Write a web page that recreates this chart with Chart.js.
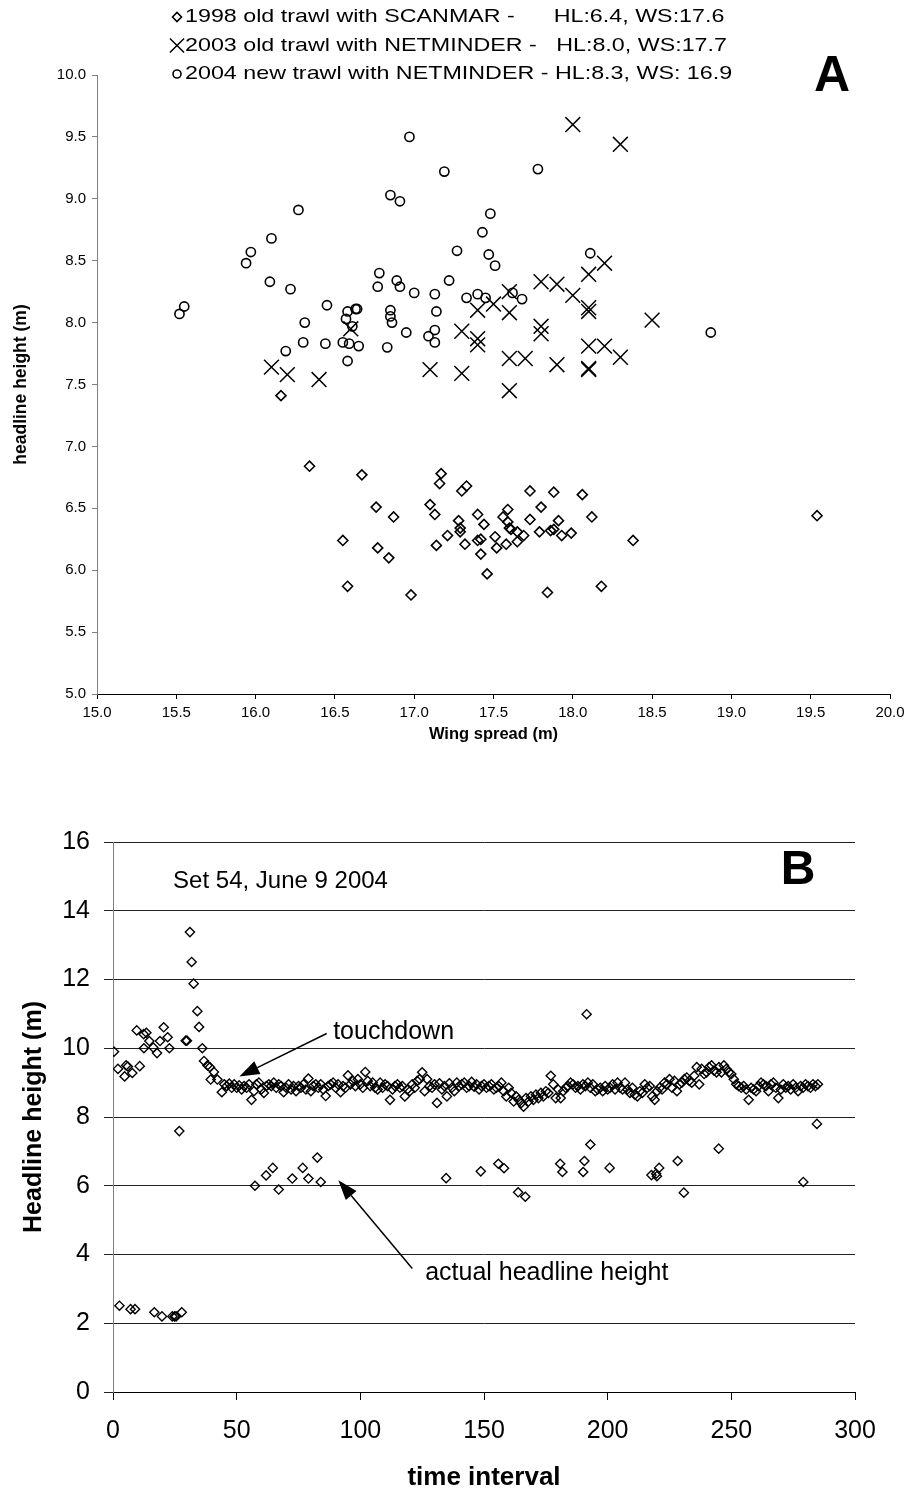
<!DOCTYPE html>
<html lang="en">
<head>
    <meta charset="UTF-8">
    <meta name="viewport" content="width=device-width, initial-scale=1.0">
    <title>Headline height and wing spread</title>
    <style>
        body {
            margin: 0;
            background: #fff;
            font-family: "Liberation Sans", Arial, sans-serif;
        }
        canvas { display: block; }
    </style>
</head>
<body>
    <canvas id="panelA" width="911" height="765"></canvas>
    <canvas id="panelB" width="911" height="728"></canvas>

    <script src="https://cdn.jsdelivr.net/npm/chart.js@4.4.1/dist/chart.umd.min.js"></script>
    <script>
        // ---------- panel A: headline height vs wing spread ----------
        const spread1998 = [16.34, 16.67, 16.76, 16.87, 16.55, 16.77, 16.84, 16.58, 16.98, 17.17,
                            17.16, 17.33, 17.30, 17.10, 17.13, 17.28, 17.29, 17.29, 17.21, 17.14,
                            17.32, 17.40, 17.44, 17.40, 17.42, 17.42, 17.46, 17.51, 17.52, 17.58,
                            17.59, 17.56, 17.59, 17.60, 17.61, 17.65, 17.69, 17.65, 17.73, 17.73,
                            17.80, 17.79, 17.88, 17.86, 17.88, 17.91, 17.93, 17.99, 18.06, 18.12,
                            17.84, 18.18, 18.38, 19.54, 16.16];
        const height1998 = [6.84, 6.77, 6.51, 6.43, 6.24, 6.18, 6.10, 5.87, 5.80, 6.78,
                            6.70, 6.68, 6.64, 6.53, 6.45, 6.40, 6.34, 6.31, 6.28, 6.20,
                            6.21, 6.45, 6.37, 6.24, 6.25, 6.13, 5.97, 6.27, 6.18, 6.21,
                            6.49, 6.43, 6.39, 6.34, 6.33, 6.31, 6.28, 6.23, 6.64, 6.41,
                            6.51, 6.31, 6.63, 6.32, 6.33, 6.40, 6.28, 6.30, 6.61, 6.43,
                            5.82, 5.87, 6.24, 6.44, 7.41];

        const spread2003 = [16.1, 16.2, 16.4, 16.6, 17.1, 17.3, 17.3, 17.4, 17.4, 17.4,
                            17.5, 18.0, 18.3, 18.2, 18.1, 17.8, 17.9, 18.0, 17.6, 17.6,
                            18.1, 18.1, 17.8, 17.8, 18.5, 18.1, 18.2, 18.3, 17.6, 17.7,
                            17.9, 18.1, 18.1, 17.6];
        const height2003 = [7.64, 7.58, 7.54, 7.95, 7.62, 7.59, 7.93, 7.87, 7.82, 8.10,
                            8.15, 9.60, 9.44, 8.48, 8.39, 8.33, 8.31, 8.22, 8.25, 8.08,
                            8.12, 8.09, 7.97, 7.91, 8.02, 7.81, 7.81, 7.72, 7.71, 7.71,
                            7.66, 7.63, 7.62, 7.45];

        const spread2004 = [16.97, 17.19, 17.78, 16.85, 16.91, 16.27, 17.48, 17.43, 16.10, 15.97,
                            15.94, 17.27, 17.47, 17.51, 18.11, 16.78, 16.09, 16.22, 16.89, 16.91,
                            16.77, 17.22, 17.00, 17.13, 17.33, 17.40, 17.45, 17.62, 17.68, 16.45,
                            16.63, 16.64, 16.58, 16.85, 16.85, 17.14, 16.57, 16.86, 16.31, 15.55,
                            15.52, 16.61, 17.13, 16.95, 17.09, 17.13, 16.30, 16.44, 16.55, 16.59,
                            16.65, 16.83, 16.19, 16.58, 18.87];
        const height2004 = [9.50, 9.22, 9.24, 9.03, 8.98, 8.91, 8.88, 8.73, 8.68, 8.57,
                            8.48, 8.58, 8.55, 8.46, 8.56, 8.40, 8.33, 8.27, 8.34, 8.29,
                            8.29, 8.34, 8.24, 8.23, 8.20, 8.23, 8.20, 8.24, 8.19, 8.14,
                            8.11, 8.11, 8.09, 8.10, 8.05, 8.09, 8.03, 8.00, 8.00, 8.13,
                            8.07, 7.97, 7.94, 7.92, 7.89, 7.84, 7.84, 7.83, 7.84, 7.83,
                            7.81, 7.80, 7.77, 7.69, 7.92];

        const seriesLabels = [
            '1998 old trawl with SCANMAR -      HL:6.4, WS:17.6',
            '2003 old trawl with NETMINDER -   HL:8.0, WS:17.7',
            '2004 new trawl with NETMINDER - HL:8.3, WS: 16.9'
        ];
        const spreadTicks = [15.0, 15.5, 16.0, 16.5, 17.0, 17.5, 18.0, 18.5, 19.0, 19.5, 20.0];
        const heightTicksA = [5.0, 5.5, 6.0, 6.5, 7.0, 7.5, 8.0, 8.5, 9.0, 9.5, 10.0];

        // ---------- panel B: headline height through set 54 ----------
        // before touchdown
        const setupTime   = [0.4, 2.0, 4.7, 5.3, 6.0, 7.8, 9.6, 10.8, 12.4, 12.5,
                             13.5, 14.7, 16.3, 17.8, 19.0, 20.5, 22.1, 22.8, 26.8, 29.4,
                             29.9, 31.1, 31.8, 32.6, 34.1, 34.8, 36.1, 36.8, 38.2, 39.2,
                             39.5, 40.8, 42.2];
        const setupHeight = [9.90, 9.40, 9.18, 9.50, 9.47, 9.28, 10.52, 9.48, 10.41, 10.00,
                             10.45, 10.21, 10.02, 9.86, 10.21, 10.61, 10.32, 10.00, 7.59, 10.22,
                             10.22, 13.38, 12.51, 11.88, 11.08, 10.62, 10.00, 9.63, 9.50, 9.45,
                             9.09, 9.31, 9.09];
        // low readings (actual headline height)
        const lowTime   = [2.6, 7.1, 8.9, 16.7, 19.8, 24.0, 24.9, 25.5, 27.8, 57.4,
                           61.9, 64.6, 67.0, 72.5, 76.7, 79.0, 82.6, 84.0, 134.7, 148.7,
                           155.8, 158.1, 163.8, 166.7, 180.8, 181.7, 190.1, 190.6, 191.5, 193.0,
                           200.8, 217.7, 219.6, 219.9, 220.8, 228.3, 230.8, 244.9, 279.1, 284.6];
        const lowHeight = [2.51, 2.41, 2.41, 2.32, 2.20, 2.20, 2.20, 2.20, 2.32, 6.00,
                           6.30, 6.52, 5.89, 6.21, 6.52, 6.21, 6.82, 6.11, 6.22, 6.42,
                           6.64, 6.51, 5.81, 5.68, 6.64, 6.40, 6.40, 6.72, 10.99, 7.20,
                           6.52, 6.31, 6.35, 6.28, 6.52, 6.72, 5.80, 7.08, 6.11, 7.80];
        // on bottom (touchdown band)
        const bandTime = [
             44,  45,  46,  47,  48,  49,  50,  51,  52,  53,
             54,  55,  56,  57,  58,  59,  60,  61,  62,  63,
             64,  65,  66,  67,  68,  69,  70,  71,  72,  73,
             74,  75,  76,  77,  78,  79,  80,  81,  82,  83,
             84,  85,  86,  87,  88,  89,  90,  91,  92,  93,
             94,  95,  96,  97,  98,  99, 100, 101, 102, 103,
            104, 105, 106, 107, 108, 109, 110, 111, 112, 113,
            114, 115, 116, 117, 118, 119, 120, 121, 122, 123,
            124, 125, 126, 127, 128, 129, 130, 131, 132, 133,
            134, 135, 136, 137, 138, 139, 140, 141, 142, 143,
            144, 145, 146, 147, 148, 149, 150, 151, 152, 153,
            154, 155, 156, 157, 158, 159, 160, 161, 162, 163,
            164, 165, 166, 167, 168, 169, 170, 171, 172, 173,
            174, 175, 176, 177, 178, 179, 180, 181, 182, 183,
            184, 185, 186, 187, 188, 189, 190, 191, 192, 193,
            194, 195, 196, 197, 198, 199, 200, 201, 202, 203,
            204, 205, 206, 207, 208, 209, 210, 211, 212, 213,
            214, 215, 216, 217, 218, 219, 220, 221, 222, 223,
            224, 225, 226, 227, 228, 229, 230, 231, 232, 233,
            234, 235, 236, 237, 238, 239, 240, 241, 242, 243,
            244, 245, 246, 247, 248, 249, 250, 251, 252, 253,
            254, 255, 256, 257, 258, 259, 260, 261, 262, 263,
            264, 265, 266, 267, 268, 269, 270, 271, 272, 273,
            274, 275, 276, 277, 278, 279, 280, 281, 282, 283,
            284, 285];
        const bandHeight = [
            8.72, 8.95, 8.90, 8.97, 8.85, 8.95, 8.85, 8.92, 8.80, 8.90,
            8.85, 8.95, 8.50, 8.75, 8.95, 9.00, 8.80, 8.70, 8.90, 8.95,
            8.90, 9.00, 8.85, 8.95, 8.90, 8.72, 8.85, 8.95, 8.80, 8.90,
            8.75, 8.90, 8.85, 8.95, 8.80, 9.12, 8.75, 8.90, 8.95, 8.85,
            8.95, 8.80, 8.61, 8.90, 8.95, 9.00, 8.85, 8.95, 8.72, 8.90,
            8.85, 9.21, 8.95, 9.05, 8.90, 9.10, 8.95, 8.85, 9.31, 9.05,
            8.90, 9.00, 8.85, 8.80, 9.00, 8.85, 8.95, 8.90, 8.50, 8.80,
            8.90, 8.95, 8.85, 8.90, 8.60, 8.80, 8.75, 8.95, 8.85, 9.05,
            9.10, 9.30, 8.75, 9.10, 8.90, 8.85, 8.95, 8.41, 8.98, 8.80,
            8.90, 8.60, 8.98, 8.85, 8.75, 9.00, 8.90, 8.95, 9.00, 8.85,
            8.90, 9.02, 8.88, 8.95, 8.80, 8.90, 8.95, 8.85, 8.90, 8.95,
            8.80, 8.85, 8.90, 9.00, 8.75, 8.60, 8.85, 8.70, 8.45, 8.60,
            8.50, 8.40, 8.30, 8.55, 8.45, 8.60, 8.50, 8.65, 8.55, 8.70,
            8.60, 8.75, 8.70, 9.20, 8.95, 8.55, 8.80, 8.55, 8.75, 8.85,
            8.90, 9.00, 8.95, 8.85, 8.90, 8.80, 8.95, 8.90, 9.00, 8.85,
            8.95, 8.75, 8.80, 8.85, 8.75, 8.90, 8.80, 8.85, 8.95, 8.80,
            9.00, 8.85, 8.80, 9.00, 8.80, 8.70, 8.85, 8.65, 8.60, 8.75,
            8.70, 8.95, 8.85, 8.90, 8.60, 8.50, 8.75, 8.85, 8.80, 9.00,
            8.95, 9.10, 8.85, 9.05, 8.75, 8.95, 9.00, 9.10, 9.15, 9.05,
            9.00, 9.20, 9.45, 8.95, 9.40, 9.25, 9.30, 9.45, 9.50, 9.35,
            9.30, 9.45, 9.30, 9.50, 9.40, 9.30, 9.25, 9.10, 8.95, 8.90,
            8.85, 8.90, 8.80, 8.50, 8.85, 8.80, 8.75, 8.90, 9.00, 8.95,
            8.90, 8.75, 8.95, 9.00, 8.85, 8.55, 8.80, 8.95, 8.85, 8.90,
            8.80, 8.95, 8.85, 8.75, 8.90, 8.85, 8.95, 8.90, 8.85, 8.95,
            8.90, 8.95];
        const timeTicks = [0, 50, 100, 150, 200, 250, 300];
        const heightTicksB = [0, 2, 4, 6, 8, 10, 12, 14, 16];

        const FONT = '"Liberation Sans", Arial, sans-serif';
        Chart.defaults.font.family = FONT;
        Chart.defaults.color = '#000';

        function toPoints(xs, ys) {
            return xs.map((x, i) => ({ x: x, y: ys[i] }));
        }

        // legend lines and the panel letter, drawn above the plot like the original figure
        const panelALegend = {
            id: 'panelALegend',
            afterDraw(chart) {
                const ctx = chart.ctx;
                ctx.save();
                chart.data.datasets.forEach((ds, i) => {
                    const y = 17 + i * 28.5;
                    ctx.strokeStyle = '#000';
                    ctx.fillStyle = 'rgba(0,0,0,0)';
                    ctx.lineWidth = ds.pointBorderWidth;
                    Chart.helpers.drawPoint(ctx, {
                        pointStyle: ds.pointStyle,
                        radius: ds.legendRadius,
                        borderWidth: ds.pointBorderWidth,
                        rotation: 0
                    }, 177, y);
                    ctx.fillStyle = '#000';
                    ctx.font = '19px ' + FONT;
                    ctx.textBaseline = 'middle';
                    ctx.textAlign = 'left';
                    ctx.save();
                    ctx.translate(185, y);
                    ctx.scale(1.225, 1);
                    ctx.fillText(ds.label, 0, 0);
                    ctx.restore();
                });
                ctx.font = 'bold 50px ' + FONT;
                ctx.textAlign = 'center';
                ctx.textBaseline = 'middle';
                ctx.fillStyle = '#000';
                ctx.fillText('A', 832, 77);
                ctx.restore();
            }
        };

        new Chart(document.getElementById('panelA'), {
            type: 'scatter',
            data: {
                datasets: [
                    { label: seriesLabels[0], data: toPoints(spread1998, height1998),
                      pointStyle: 'rectRot', pointRadius: 5, legendRadius: 4.5, pointBorderWidth: 1.6,
                      borderColor: '#000', backgroundColor: 'rgba(0,0,0,0)' },
                    { label: seriesLabels[1], data: toPoints(spread2003, height2003),
                      pointStyle: 'crossRot', pointRadius: 10.5, legendRadius: 10, pointBorderWidth: 1.5,
                      borderColor: '#000', backgroundColor: 'rgba(0,0,0,0)' },
                    { label: seriesLabels[2], data: toPoints(spread2004, height2004),
                      pointStyle: 'circle', pointRadius: 4.6, legendRadius: 4, pointBorderWidth: 1.6,
                      borderColor: '#000', backgroundColor: 'rgba(0,0,0,0)' }
                ]
            },
            options: {
                responsive: false,
                animation: false,
                layout: { padding: { top: 75, right: 21, left: 0, bottom: 0 } },
                plugins: { legend: { display: false }, tooltip: { enabled: false } },
                scales: {
                    x: {
                        type: 'linear', min: 15, max: 20,
                        afterFit: s => { s.height = 71; },
                        afterBuildTicks: s => { s.ticks = spreadTicks.map(v => ({ value: v })); },
                        ticks: { callback: v => v.toFixed(1), font: { size: 15 }, color: '#000', padding: 5, maxRotation: 0 },
                        grid: { drawOnChartArea: false, tickLength: 5, color: '#000' },
                        border: { color: '#000', width: 1 },
                        title: { display: true, text: 'Wing spread (m)', color: '#000',
                                 font: { size: 16.5, weight: 'bold' }, padding: { top: 0, bottom: 21 } }
                    },
                    y: {
                        type: 'linear', min: 5, max: 10,
                        afterFit: s => { s.width = 97; },
                        afterBuildTicks: s => { s.ticks = heightTicksA.map(v => ({ value: v })); },
                        ticks: { callback: v => v.toFixed(1), font: { size: 15 }, color: '#000', padding: 6 },
                        grid: { drawOnChartArea: false, tickLength: 5, color: '#808080' },
                        border: { color: '#808080', width: 1 },
                        title: { display: true, text: 'headline height (m)', color: '#000',
                                 font: { size: 17.5, weight: 'bold' }, padding: { top: 11, bottom: 0 } }
                    }
                }
            },
            plugins: [panelALegend]
        });

        // notes for panel B, placed in data units (time interval, height)
        const panelBNotes = {
            texts: [
                { text: 'Set 54, June 9 2004', at: [24.3, 14.86], font: '24px ' + FONT, align: 'left' },
                { text: 'touchdown', at: [89, 10.46], font: '25px ' + FONT, align: 'left' },
                { text: 'actual headline height', at: [126.2, 3.45], font: '25px ' + FONT, align: 'left' },
                { text: 'B', at: [277, 15.17], font: 'bold 48px ' + FONT, align: 'center' }
            ],
            arrows: [
                { from: [86.4, 10.43], to: [51.1, 9.18] },
                { from: [121.0, 3.59], to: [91.1, 6.16] }
            ]
        };

        const panelBAnnotations = {
            id: 'panelBAnnotations',
            afterDraw(chart) {
                const { ctx, scales } = chart;
                const px = p => [scales.x.getPixelForValue(p[0]), scales.y.getPixelForValue(p[1])];
                ctx.save();
                ctx.fillStyle = '#000';
                ctx.strokeStyle = '#000';
                panelBNotes.arrows.forEach(a => {
                    const [x0, y0] = px(a.from);
                    const [x1, y1] = px(a.to);
                    const ang = Math.atan2(y1 - y0, x1 - x0);
                    const len = 20, half = 7;
                    const bx = x1 - len * Math.cos(ang);
                    const by = y1 - len * Math.sin(ang);
                    ctx.lineWidth = 1.5;
                    ctx.beginPath();
                    ctx.moveTo(x0, y0);
                    ctx.lineTo(bx, by);
                    ctx.stroke();
                    ctx.beginPath();
                    ctx.moveTo(x1, y1);
                    ctx.lineTo(bx + half * Math.sin(ang), by - half * Math.cos(ang));
                    ctx.lineTo(bx - half * Math.sin(ang), by + half * Math.cos(ang));
                    ctx.closePath();
                    ctx.fill();
                });
                panelBNotes.texts.forEach(t => {
                    const [x, y] = px(t.at);
                    ctx.font = t.font;
                    ctx.textAlign = t.align;
                    ctx.textBaseline = 'middle';
                    ctx.fillText(t.text, x, y);
                });
                ctx.restore();
            }
        };

        new Chart(document.getElementById('panelB'), {
            type: 'scatter',
            data: {
                datasets: [{
                    label: 'Set 54',
                    data: toPoints(setupTime, setupHeight)
                        .concat(toPoints(lowTime, lowHeight))
                        .concat(toPoints(bandTime, bandHeight)),
                    pointStyle: 'rectRot', pointRadius: 4.6, pointBorderWidth: 1.4,
                    borderColor: '#000', backgroundColor: 'rgba(0,0,0,0)'
                }]
            },
            options: {
                responsive: false,
                animation: false,
                layout: { padding: { top: 77, right: 56, left: 0, bottom: 0 } },
                plugins: { legend: { display: false }, tooltip: { enabled: false } },
                scales: {
                    x: {
                        type: 'linear', min: 0, max: 300,
                        afterFit: s => { s.height = 101; },
                        afterBuildTicks: s => { s.ticks = timeTicks.map(v => ({ value: v })); },
                        ticks: { font: { size: 25 }, color: '#000', padding: 16, maxRotation: 0 },
                        grid: { drawOnChartArea: false, tickLength: 8, color: '#000' },
                        border: { color: '#000', width: 1 },
                        title: { display: true, text: 'time interval', color: '#000',
                                 font: { size: 26, weight: 'bold' }, padding: { top: 0, bottom: 0 } }
                    },
                    y: {
                        type: 'linear', min: 0, max: 16,
                        afterFit: s => { s.width = 113; },
                        afterBuildTicks: s => { s.ticks = heightTicksB.map(v => ({ value: v })); },
                        ticks: { font: { size: 25 }, color: '#000', padding: 14 },
                        grid: { color: '#222', tickLength: 9 },
                        border: { color: '#808080', width: 1 },
                        title: { display: true, text: 'Headline height (m)', color: '#000',
                                 font: { size: 25, weight: 'bold' }, padding: { top: 19, bottom: 0 } }
                    }
                }
            },
            plugins: [panelBAnnotations]
        });
    </script>
</body>
</html>
